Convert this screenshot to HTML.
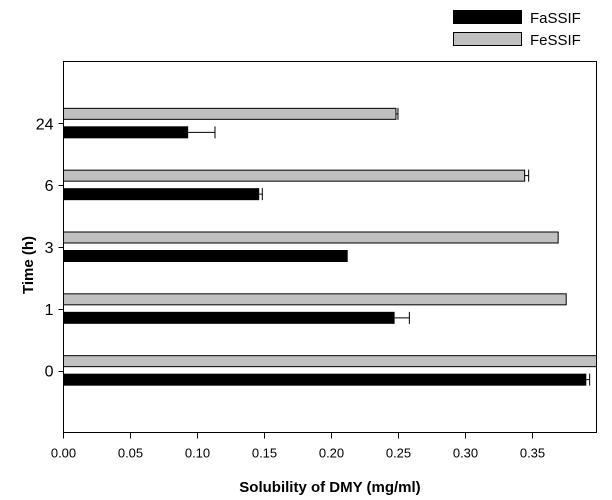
<!DOCTYPE html>
<html><head><meta charset="utf-8"><style>
body{margin:0;background:#fff;}
svg{display:block;font-family:"Liberation Sans",Arial,sans-serif;}
</style></head><body>
<svg id="chart" width="612" height="500" viewBox="0 0 612 500" xmlns="http://www.w3.org/2000/svg">
<g>
<rect x="453" y="10" width="69" height="14" fill="#000"/>
<text x="530" y="23" font-size="15">FaSSIF</text>
<rect x="453.5" y="32.5" width="68" height="13" fill="#c0c0c0" stroke="#000"/>
<text x="530" y="45" font-size="15">FeSSIF</text>
</g>
<g id="bars"></g>
<rect x="63.5" y="61.5" width="533" height="371" fill="none" stroke="#000" stroke-width="1"/>
<g id="xaxis"></g>
<g id="yaxis"></g>
<text x="330" y="492" text-anchor="middle" font-size="15" font-weight="bold">Solubility of DMY (mg/ml)</text>
<text x="0" y="0" transform="translate(33,265) rotate(-90)" text-anchor="middle" font-size="15" font-weight="bold">Time (h)</text>
</svg>
<script>
const categories = ["0","1","3","6","24"];
const fassif = [0.390, 0.247, 0.212, 0.146, 0.093];
const fassifErr = [0.0025, 0.011, 0.0, 0.0023, 0.020];
const fessif = [0.41, 0.375, 0.369, 0.344, 0.248];
const fessifErr = [0.0, 0.0, 0.0, 0.003, 0.0015];
const xTicks = [0,0.05,0.10,0.15,0.20,0.25,0.30,0.35];

const NS="http://www.w3.org/2000/svg";
const L=63.5,R=596.5,T=61.5,B=432.5,XMAX=0.3976;
function xs(v){return L+(Math.min(v,XMAX))*(R-L)/XMAX;}
function ys(i){return B-(i+1)*(B-T)/(categories.length+1);}
function mk(tag,attrs,parent){const e=document.createElementNS(NS,tag);for(const k in attrs)e.setAttribute(k,attrs[k]);parent.appendChild(e);return e;}
const bars=document.getElementById('bars'),xa=document.getElementById('xaxis'),ya=document.getElementById('yaxis');
categories.forEach((c,i)=>{
  const y=ys(i);
  const g=mk('rect',{x:L,y:y-15,width:xs(fessif[i])-L,height:11,fill:'#c0c0c0',stroke:'#000','stroke-width':1},bars);
  
  
  const b=mk('rect',{x:L,y:y+3,width:xs(fassif[i])-L,height:12,fill:'#000'},bars);
  
  
  [[fessif[i],fessifErr[i],y-9.5],[fassif[i],fassifErr[i],y+9]].forEach(([v,e,yy],k)=>{
    if(e>0&&v<XMAX){
      const x1=xs(v),x2=xs(v+e);
      const eg=mk('path',{d:`M${x1},${yy}H${x2}M${x2},${yy-6}V${yy+6}`,stroke:'#000','stroke-width':1,fill:'none'},bars);
      
      
    }
  });
  const t=mk('path',{d:`M${L-5},${Math.round(y)+0.5}H${L}`,stroke:'#000'},ya);
  
  
  const tl=mk('text',{x:L-10,y:y+6,'text-anchor':'end','font-size':16},ya);
  tl.textContent=c;
  
  
});
xTicks.forEach(v=>{
  const x=Math.round(xs(v)-0.5)+0.5;
  const t=mk('path',{d:`M${x},${B}V${B+6}`,stroke:'#000'},xa);
  
  
  const tl=mk('text',{x:x,y:B+25,'text-anchor':'middle','font-size':13},xa);
  tl.textContent=v.toFixed(2);
  
  
});
</script>
</body></html>
